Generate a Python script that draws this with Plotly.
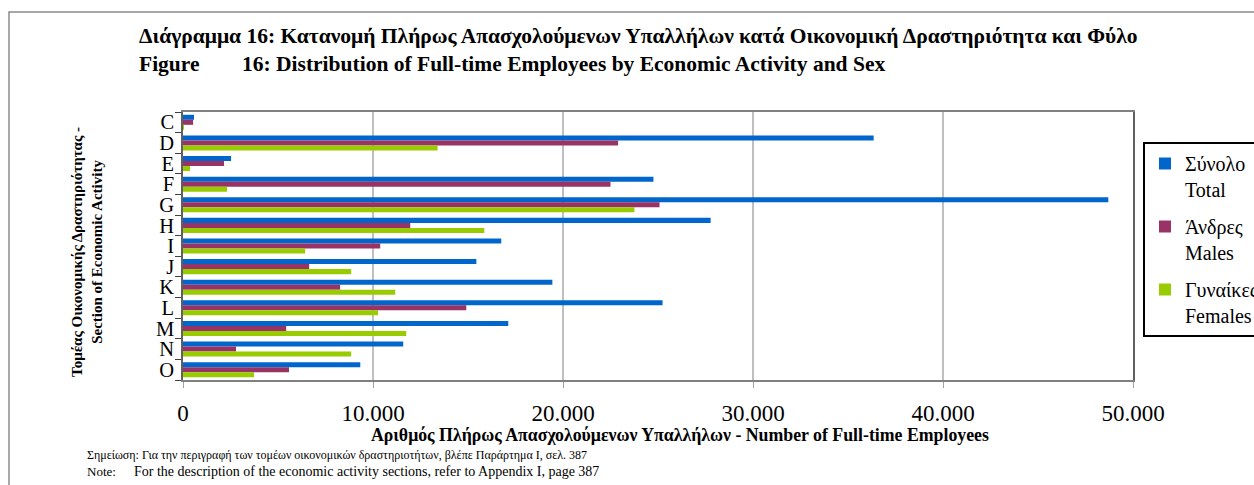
import plotly.graph_objects as go

# ---- data ----
sections = ["C", "D", "E", "F", "G", "H", "I", "J", "K", "L", "M", "N", "O"]
total = [580, 36350, 2530, 24760, 48700, 27770, 16750, 15440, 19440, 25240, 17120, 11590, 9330]
males = [530, 22900, 2160, 22500, 25080, 11960, 10380, 6640, 8270, 14910, 5430, 2790, 5580]
females = [30, 13400, 370, 2320, 23760, 15860, 6430, 8850, 11170, 10270, 11750, 8850, 3740]
series_names = ["Σύνολο<br>Total", "Άνδρες<br>Males", "Γυναίκες<br>Females"]
series_colors = ["#0066CC", "#993366", "#99CC00"]
x_ticks = [0, 10000, 20000, 30000, 40000, 50000]

# ---- layout geometry (pixels) ----
W, H = 1254, 485
L, R, T, B = 183, 1133, 112, 380
PW, PH = R - L, B - T


def px(x):
    return (x - L) / PW


def py(y):
    return (B - y) / PH


FONT = "Liberation Serif, Times New Roman, serif"

fig = go.Figure()
for name, vals, col in zip(series_names, [total, males, females], series_colors):
    fig.add_trace(go.Bar(
        y=sections, x=vals, name=name, orientation="h",
        marker=dict(color=col, line=dict(width=0)),
        legendgroup=name,
    ))

fig.update_layout(
    width=W, height=H,
    margin=dict(l=L, r=W - R, t=T, b=H - B, autoexpand=False),
    paper_bgcolor="white", plot_bgcolor="white",
    barmode="group", bargap=0.27, bargroupgap=0,
    separators=",.",
    font=dict(family=FONT, color="black"),
    showlegend=True,
    legend=dict(
        x=px(1143), y=py(142), xanchor="left", yanchor="top",
        bordercolor="black", borderwidth=2, bgcolor="white",
        font=dict(family=FONT, size=20, color="black"),
        valign="top", tracegroupgap=8,
        traceorder="grouped",
    ),
    xaxis=dict(
        range=[0, 50000], tickvals=x_ticks, tickformat=",d",
        showgrid=True, gridcolor="#BFBFBF", gridwidth=1.5,
        zeroline=False, showline=True, mirror=True, linecolor="#808080", linewidth=1.5,
        ticks="outside", ticklen=6, tickcolor="#A0A0A0",
        ticklabelstandoff=6,
        tickfont=dict(family=FONT, size=23, color="black"),
    ),
    yaxis=dict(
        type="category", categoryorder="array", categoryarray=sections,
        tickmode="array", tickvals=sections,
        autorange="reversed",
        showgrid=False, zeroline=False,
        showline=True, mirror=True, linecolor="#606060", linewidth=1.5,
        ticks="outside", ticklen=6, tickcolor="#404040", tickson="boundaries",
        tickfont=dict(family=FONT, size=20.5, color="black"),
        ticklabelstandoff=3,
    ),
)

annotations = [
    dict(text="<b>Διάγραμμα 16: Κατανομή Πλήρως Απασχολούμενων Υπαλλήλων κατά Οικονομική Δραστηριότητα και Φύλο</b>",
         x=px(137), y=py(36), xanchor="left", yanchor="middle", font=dict(size=21.5)),
    dict(text="<b>Figure</b>", x=px(137), y=py(64), xanchor="left", yanchor="middle", font=dict(size=21.5)),
    dict(text="<b>16: Distribution of Full-time Employees by Economic Activity and Sex</b>",
         x=px(240), y=py(64), xanchor="left", yanchor="middle", font=dict(size=21.5)),
    dict(text="<b>Τομέας Οικονομικής Δραστηριότητας -<br>Section of Economic Activity</b>",
         x=px(87), y=py(252), xanchor="center", yanchor="middle", textangle=-90,
         font=dict(size=15)),
    dict(text="<b>Αριθμός Πλήρως Απασχολούμενων Υπαλλήλων - Number of Full-time Employees</b>",
         x=px(680), y=py(435), xanchor="center", yanchor="middle", font=dict(size=17.8)),
    dict(text="Σημείωση: Για την περιγραφή των τομέων οικονομικών δραστηριοτήτων, βλέπε Παράρτημα Ι, σελ. 387",
         x=px(85), y=py(455), xanchor="left", yanchor="middle", font=dict(size=12)),
    dict(text="Note:", x=px(85), y=py(472), xanchor="left", yanchor="middle", font=dict(size=13)),
    dict(text="For the description of the economic activity sections, refer to Appendix I, page 387",
         x=px(132), y=py(472), xanchor="left", yanchor="middle", font=dict(size=14)),
]
for a in annotations:
    a.update(xref="paper", yref="paper", showarrow=False)
    a["font"] = dict(family=FONT, color="black", **a["font"])
fig.update_layout(annotations=annotations)

# outer chart frame
fig.add_shape(type="rect", xref="paper", yref="paper",
              x0=px(9), y0=py(12), x1=px(1400), y1=py(600),
              line=dict(color="#8C8C8C", width=1.5), layer="below")

fig.write_html("out.html",
               config={"displayModeBar": False},
               post_script="document.body.style.margin='0';document.body.style.overflow='hidden';")
